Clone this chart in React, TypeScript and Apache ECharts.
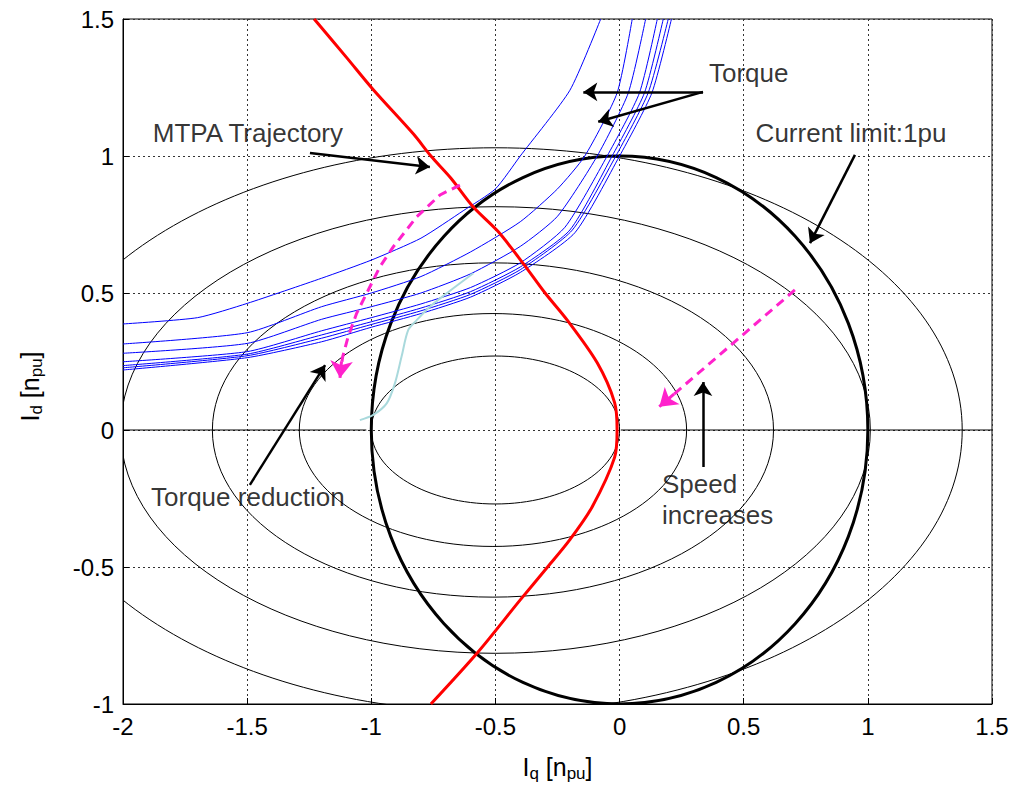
import React, { useEffect, useRef } from 'react';
import * as echarts from 'echarts';

const FONT = "'Liberation Sans', Arial, Helvetica, sans-serif";

// axis ticks
const xTicks = [-2, -1.5, -1, -0.5, 0, 0.5, 1, 1.5];
const yTicks = [-1, -0.5, 0, 0.5, 1, 1.5];

// voltage-limit ellipses: [centerX, centerY, semiAxisX, semiAxisY]
const voltageEllipses = [
  [-0.5, 0, 0.5, 0.27],
  [-0.51, 0, 0.78, 0.425],
  [-0.51, 0, 1.13, 0.61],
  [-0.5, 0, 1.51, 0.815],
  [-0.5, 0, 1.88, 1.03],
];

// current limit circle 1 pu: [centerX, centerY, rX, rY]
const currentLimit = [[0, 0, 1, 1]];

// solid zero line pieces
const zeroLeft = [[-2, 0], [-1.02, 0]];
const zeroRight = [[0.005, 0], [1.5, 0]];

// MTPA trajectory
const mtpa = [
  [-1.23, 1.5], [-1.1, 1.36], [-0.99, 1.24], [-0.83, 1.08], [-0.76, 1.0],
  [-0.68, 0.92], [-0.59, 0.815], [-0.49, 0.725], [-0.39, 0.61], [-0.3, 0.5],
  [-0.21, 0.4], [-0.09, 0.245], [-0.02, 0.1], [-0.01, 0], [-0.02, -0.1],
  [-0.11, -0.28], [-0.2, -0.4], [-0.29, -0.5], [-0.4, -0.62], [-0.57, -0.81],
  [-0.76, -1.0],
];

// constant torque curves
const torqueA = [[-2, 0.387], [-1.7, 0.41], [-1.5, 0.462], [-1.2, 0.554], [-1.0, 0.62], [-0.8, 0.7], [-0.63, 0.8], [-0.5, 0.88], [-0.4, 1.0], [-0.2, 1.24], [-0.076, 1.5]];
const torqueB = [[-2, 0.314], [-1.5, 0.355], [-1.2, 0.45], [-1.0, 0.5], [-0.8, 0.56], [-0.6, 0.65], [-0.4, 0.76], [-0.25, 0.88], [-0.14, 1.0], [-0.01, 1.23], [0.051, 1.5]];
const torqueC = [[-2, 0.28], [-1.5, 0.316], [-1.2, 0.404], [-1.0, 0.45], [-0.8, 0.5], [-0.6, 0.57], [-0.4, 0.67], [-0.25, 0.78], [-0.09, 1.0], [0.035, 1.23], [0.105, 1.5]];
const torqueD = [[-2, 0.249], [-1.5, 0.286], [-1.2, 0.362], [-1.0, 0.41], [-0.8, 0.46], [-0.6, 0.52], [-0.4, 0.61], [-0.22, 0.74], [-0.05, 1.0], [0.08, 1.23], [0.152, 1.5]];
const torqueE = [[-2, 0.235], [-1.5, 0.277], [-1.2, 0.347], [-1.0, 0.395], [-0.8, 0.445], [-0.6, 0.505], [-0.4, 0.595], [-0.2, 0.73], [-0.03, 1.0], [0.1, 1.23], [0.176, 1.5]];
const torqueF = [[-2, 0.227], [-1.5, 0.271], [-1.2, 0.335], [-1.0, 0.385], [-0.8, 0.435], [-0.6, 0.495], [-0.4, 0.585], [-0.19, 0.73], [-0.015, 1.0], [0.115, 1.23], [0.196, 1.5]];
const torqueG = [[-2, 0.219], [-1.5, 0.264], [-1.2, 0.322], [-1.0, 0.375], [-0.8, 0.425], [-0.6, 0.485], [-0.4, 0.575], [-0.18, 0.72], [0.0, 1.0], [0.13, 1.23], [0.209, 1.5]];
const torqueCurves = [torqueA, torqueB, torqueC, torqueD, torqueE, torqueF, torqueG];

// light cyan trace
const cyanTrace = [
  [-1.046, 0.036], [-0.992, 0.055], [-0.938, 0.097], [-0.905, 0.17], [-0.878, 0.268],
  [-0.851, 0.365], [-0.817, 0.401], [-0.764, 0.45], [-0.696, 0.499], [-0.589, 0.572],
];

// magenta dashed arrows
const torqueReductionPath = [
  [-0.643, 0.894], [-0.723, 0.858], [-0.817, 0.778], [-0.911, 0.669], [-0.965, 0.596],
  [-1.012, 0.511], [-1.059, 0.426], [-1.093, 0.341], [-1.115, 0.268], [-1.124, 0.215],
];
const torqueReductionHead = [[-1.12, 0.25], [-1.126, 0.19]];
const speedPath = [[0.706, 0.511], [0.19, 0.108]];
const speedHead = [[0.22, 0.132], [0.16, 0.085]];

// black annotation arrows [from, to]
const annotationArrows = [
  [[0.336, 1.234], [-0.146, 1.234]],
  [[0.336, 1.234], [-0.086, 1.125]],
  [[-1.247, 1.011], [-0.764, 0.96]],
  [[0.948, 1.004], [0.767, 0.682]],
  [[-1.489, -0.2], [-1.186, 0.237]],
  [[0.336, -0.135], [0.336, 0.175]],
];

const annotationNames = ['Torque', 'MTPA Trajectory', 'Current limit:1pu', 'Torque reduction'];
const annotationAnchors = [[0.52, 1.303], [-1.497, 1.084], [0.932, 1.084], [-1.497, -0.245]];
const speedText = 'Speed\nincreases';
const speedAnchor = [0.171, -0.255];

function lineSeries(data: number[][], color: string, width: number, extra: any = {}) {
  return {
    type: 'line',
    data,
    showSymbol: false,
    symbol: 'none',
    silent: true,
    clip: true,
    lineStyle: { color, width, ...(extra.lineStyle || {}) },
    z: extra.z ?? 2,
    smooth: extra.smooth ?? false,
  };
}

function ellipseSeries(data: number[][], width: number, z: number) {
  return {
    type: 'custom',
    coordinateSystem: 'cartesian2d',
    clip: true,
    silent: true,
    z,
    data,
    encode: { x: 0, y: 1 },
    renderItem: (params: any, api: any) => {
      const c = api.coord([api.value(0), api.value(1)]);
      const s = api.size([api.value(2), api.value(3)]);
      return {
        type: 'ellipse',
        shape: { cx: c[0], cy: c[1], rx: s[0], ry: s[1] },
        style: { fill: 'none', stroke: '#000', lineWidth: width },
      };
    },
  };
}

export default function App() {
  const ref = useRef<HTMLDivElement>(null);

  useEffect(() => {
    if (!ref.current) return;
    const chart = echarts.init(ref.current, undefined, { renderer: 'svg' });
    const gridLine = { show: true, lineStyle: { color: '#333', type: [2, 3], width: 1 } };
    const nameRich = {
      i: { fontSize: 25, fontFamily: FONT, color: '#000' },
      s: { fontSize: 17, fontFamily: FONT, color: '#000', padding: [14, 0, 0, 0] },
    };
    const option: any = {
      animation: false,
      backgroundColor: '#fff',
      grid: { left: 123, right: 22, top: 19, bottom: 86, show: true, borderColor: '#000', borderWidth: 1, backgroundColor: 'transparent' },
      xAxis: {
        type: 'value',
        min: xTicks[0],
        max: xTicks[xTicks.length - 1],
        interval: 0.5,
        axisLine: { show: true, onZero: false, lineStyle: { color: '#000', width: 1 } },
        axisTick: { show: true, inside: true, length: 6, lineStyle: { color: '#000' } },
        axisLabel: { color: '#000', fontSize: 24, fontFamily: FONT, margin: 10, formatter: (v: number) => String(v) },
        splitLine: gridLine,
        name: '{i|I}{s|q}{i| [n}{s|pu}{i|]}',
        nameLocation: 'middle',
        nameGap: 47,
        nameTextStyle: { rich: nameRich },
      },
      yAxis: {
        type: 'value',
        min: yTicks[0],
        max: yTicks[yTicks.length - 1],
        interval: 0.5,
        axisLine: { show: true, onZero: false, lineStyle: { color: '#000', width: 1 } },
        axisTick: { show: true, inside: true, length: 6, lineStyle: { color: '#000' } },
        axisLabel: { color: '#000', fontSize: 24, fontFamily: FONT, margin: 9, formatter: (v: number) => String(v) },
        splitLine: gridLine,
        name: '{i|I}{s|d}{i| [n}{s|pu}{i|]}',
        nameLocation: 'middle',
        nameRotate: 90,
        nameGap: 78,
        nameTextStyle: { rich: nameRich, padding: [0, 50, 0, 0] },
      },
      series: [
        lineSeries(zeroLeft, '#000', 1, { z: 1 }),
        lineSeries(zeroRight, '#000', 1, { z: 1 }),
        ellipseSeries(voltageEllipses, 1, 2),
        ellipseSeries(currentLimit, 3, 3),
        ...torqueCurves.map((c) => lineSeries(c, '#0000ff', 1, { z: 4, smooth: 0.2 })),
        lineSeries(cyanTrace, '#a9d9dc', 2, { z: 4, smooth: 0.3 }),
        lineSeries(mtpa, '#ff0000', 3, { z: 5, smooth: 0.3 }),
        {
          type: 'lines',
          coordinateSystem: 'cartesian2d',
          polyline: true,
          silent: true,
          z: 6,
          lineStyle: { color: '#ff22cc', width: 3, type: [9, 6], opacity: 1 },
          data: [{ coords: torqueReductionPath }, { coords: speedPath }],
        },
        {
          type: 'lines',
          coordinateSystem: 'cartesian2d',
          silent: true,
          z: 6,
          symbol: ['none', 'arrow'],
          symbolSize: 17,
          lineStyle: { color: '#ff22cc', width: 3, opacity: 1 },
          data: [{ coords: torqueReductionHead }, { coords: speedHead }],
        },
        {
          type: 'lines',
          coordinateSystem: 'cartesian2d',
          silent: true,
          z: 7,
          symbol: ['none', 'arrow'],
          symbolSize: 14,
          lineStyle: { color: '#000', width: 2.5, opacity: 1 },
          data: annotationArrows.map((a) => ({ coords: a })),
        },
        {
          type: 'scatter',
          silent: true,
          z: 8,
          symbolSize: 0,
          data: annotationNames.map((n, i) => ({ name: n, value: annotationAnchors[i] })),
          label: { show: true, position: 'inside', formatter: '{b}', fontSize: 26, fontFamily: FONT, color: '#000' },
        },
        {
          type: 'scatter',
          silent: true,
          z: 8,
          symbolSize: 0,
          data: [{ name: speedText, value: speedAnchor }],
          label: { show: true, position: 'right', distance: 0, align: 'left', formatter: '{b}', fontSize: 26, lineHeight: 31, fontFamily: FONT, color: '#000' },
        },
      ],
    };
    chart.setOption(option);
    return () => chart.dispose();
  }, []);

  return <div ref={ref} style={{ position: 'absolute', left: 0, top: 0, width: 1014, height: 790, background: '#fff' }} />;
}
